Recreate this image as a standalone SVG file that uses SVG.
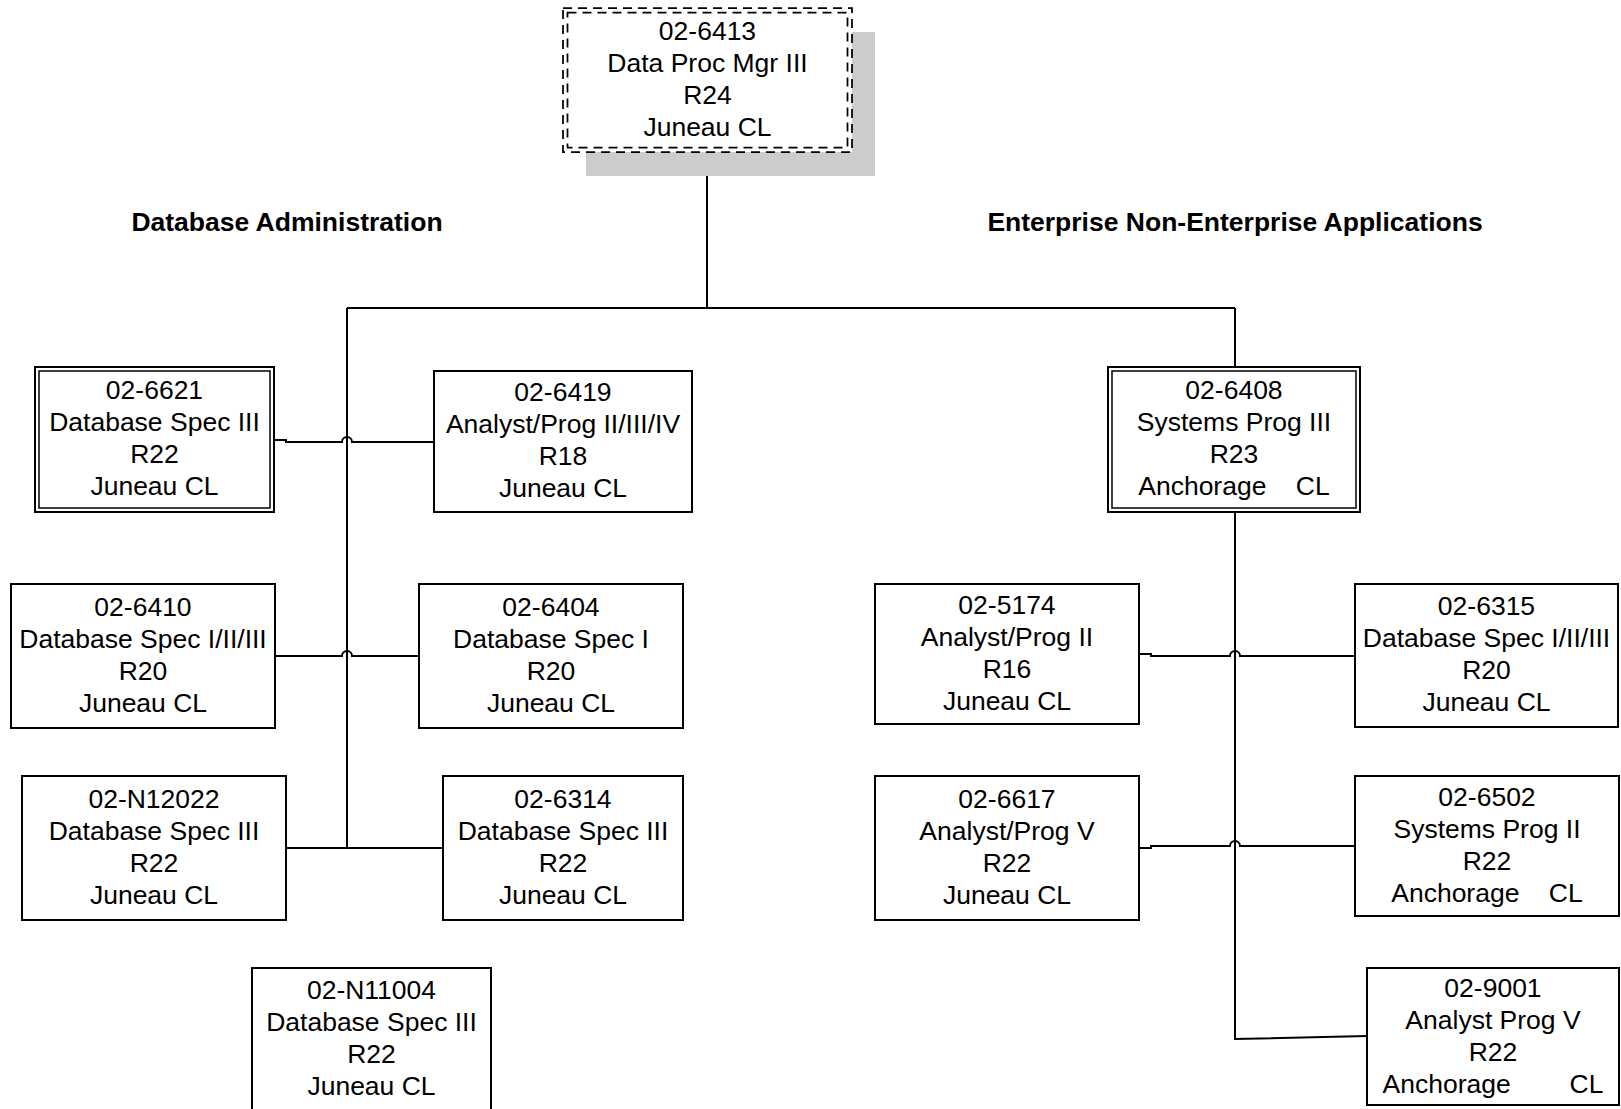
<svg xmlns="http://www.w3.org/2000/svg" width="1621" height="1109" viewBox="0 0 1621 1109">
<style>
.box{fill:#fff;stroke:#000;stroke-width:2}
.dash{fill:none;stroke:#000;stroke-width:1.75;stroke-dasharray:9,6}
.inner{fill:none;stroke:#000;stroke-width:1.5}
.shadow{fill:#cccccc;stroke:none}
.t{font-family:"Liberation Sans",Arial,sans-serif;font-size:26.5px;fill:#000;text-anchor:middle;white-space:pre}
.title{font-family:"Liberation Sans",Arial,sans-serif;font-size:26.5px;font-weight:bold;fill:#000;text-anchor:middle}
.c{fill:none;stroke:#000;stroke-width:2}
</style>
<rect width="1621" height="1109" fill="#fff"/>
<g id="connectors">
<path class="c" d="M707,152 V308"/>
<path class="c" d="M347,308 H1235"/>
<path class="c" d="M347,308 V848"/>
<path class="c" d="M1235,308 V367"/>
<path class="c" d="M1235,512 V1039 L1367,1036"/>
<path class="c" d="M274,440 H286 V442 H342 A5,5 0 0 1 352,442 H434"/>
<path class="c" d="M275,656 H342 A5,5 0 0 1 352,656 H419"/>
<path class="c" d="M286,848 H443"/>
<path class="c" d="M1139,654 H1151 V656 H1230 A5,5 0 0 1 1240,656 H1355"/>
<path class="c" d="M1139,848 H1151 V846 H1230 A5,5 0 0 1 1240,846 H1355"/>
</g>
<g id="titles">
<text class="title" x="287" y="231">Database Administration</text>
<text class="title" x="1235" y="231">Enterprise Non-Enterprise Applications</text>
</g>
<g id="n6413">
<rect class="shadow" x="586" y="32" width="289" height="144"/>
<rect x="563" y="8" width="289" height="144" fill="#fff"/>
<rect class="dash" x="563" y="8" width="289" height="144"/>
<rect class="dash" x="567.5" y="12.5" width="280" height="135"/>
<text class="t"><tspan x="707.5" y="39.5">02-6413</tspan><tspan x="707.5" y="71.5">Data Proc Mgr III</tspan><tspan x="707.5" y="103.5">R24</tspan><tspan x="707.5" y="135.5">Juneau CL</tspan></text>
</g>
<g id="n6621">
<rect class="box" x="35" y="367" width="239" height="145"/>
<rect class="inner" x="39" y="371" width="231" height="137"/>
<text class="t"><tspan x="154.5" y="399">02-6621</tspan><tspan x="154.5" y="431">Database Spec III</tspan><tspan x="154.5" y="463">R22</tspan><tspan x="154.5" y="495">Juneau CL</tspan></text>
</g>
<g id="n6419">
<rect class="box" x="434" y="371" width="258" height="141"/>
<text class="t"><tspan x="563" y="401">02-6419</tspan><tspan x="563" y="433">Analyst/Prog II/III/IV</tspan><tspan x="563" y="465">R18</tspan><tspan x="563" y="497">Juneau CL</tspan></text>
</g>
<g id="n6408">
<rect class="box" x="1108" y="367" width="252" height="145"/>
<rect class="inner" x="1112" y="371" width="244" height="137"/>
<text class="t"><tspan x="1234" y="399">02-6408</tspan><tspan x="1234" y="431">Systems Prog III</tspan><tspan x="1234" y="463">R23</tspan><tspan x="1234" y="495">Anchorage    CL</tspan></text>
</g>
<g id="n6410">
<rect class="box" x="11" y="584" width="264" height="144"/>
<text class="t"><tspan x="143" y="615.5">02-6410</tspan><tspan x="143" y="647.5">Database Spec I/II/III</tspan><tspan x="143" y="679.5">R20</tspan><tspan x="143" y="711.5">Juneau CL</tspan></text>
</g>
<g id="n6404">
<rect class="box" x="419" y="584" width="264" height="144"/>
<text class="t"><tspan x="551" y="615.5">02-6404</tspan><tspan x="551" y="647.5">Database Spec I</tspan><tspan x="551" y="679.5">R20</tspan><tspan x="551" y="711.5">Juneau CL</tspan></text>
</g>
<g id="n5174">
<rect class="box" x="875" y="584" width="264" height="140"/>
<text class="t"><tspan x="1007" y="613.5">02-5174</tspan><tspan x="1007" y="645.5">Analyst/Prog II</tspan><tspan x="1007" y="677.5">R16</tspan><tspan x="1007" y="709.5">Juneau CL</tspan></text>
</g>
<g id="n6315">
<rect class="box" x="1355" y="584" width="263" height="143"/>
<text class="t"><tspan x="1486.5" y="615">02-6315</tspan><tspan x="1486.5" y="647">Database Spec I/II/III</tspan><tspan x="1486.5" y="679">R20</tspan><tspan x="1486.5" y="711">Juneau CL</tspan></text>
</g>
<g id="nN12022">
<rect class="box" x="22" y="776" width="264" height="144"/>
<text class="t"><tspan x="154" y="807.5">02-N12022</tspan><tspan x="154" y="839.5">Database Spec III</tspan><tspan x="154" y="871.5">R22</tspan><tspan x="154" y="903.5">Juneau CL</tspan></text>
</g>
<g id="n6314">
<rect class="box" x="443" y="776" width="240" height="144"/>
<text class="t"><tspan x="563" y="807.5">02-6314</tspan><tspan x="563" y="839.5">Database Spec III</tspan><tspan x="563" y="871.5">R22</tspan><tspan x="563" y="903.5">Juneau CL</tspan></text>
</g>
<g id="n6617">
<rect class="box" x="875" y="776" width="264" height="144"/>
<text class="t"><tspan x="1007" y="807.5">02-6617</tspan><tspan x="1007" y="839.5">Analyst/Prog V</tspan><tspan x="1007" y="871.5">R22</tspan><tspan x="1007" y="903.5">Juneau CL</tspan></text>
</g>
<g id="n6502">
<rect class="box" x="1355" y="776" width="264" height="140"/>
<text class="t"><tspan x="1487" y="805.5">02-6502</tspan><tspan x="1487" y="837.5">Systems Prog II</tspan><tspan x="1487" y="869.5">R22</tspan><tspan x="1487" y="901.5">Anchorage    CL</tspan></text>
</g>
<g id="n9001">
<rect class="box" x="1367" y="968" width="252" height="137"/>
<text class="t"><tspan x="1493" y="996.5">02-9001</tspan><tspan x="1493" y="1028.5">Analyst Prog V</tspan><tspan x="1493" y="1060.5">R22</tspan><tspan x="1493" y="1092.5">Anchorage        CL</tspan></text>
</g>
<g id="nN11004">
<rect class="box" x="252" y="968" width="239" height="143"/>
<text class="t"><tspan x="371.5" y="999">02-N11004</tspan><tspan x="371.5" y="1031">Database Spec III</tspan><tspan x="371.5" y="1063">R22</tspan><tspan x="371.5" y="1095">Juneau CL</tspan></text>
</g>
</svg>
